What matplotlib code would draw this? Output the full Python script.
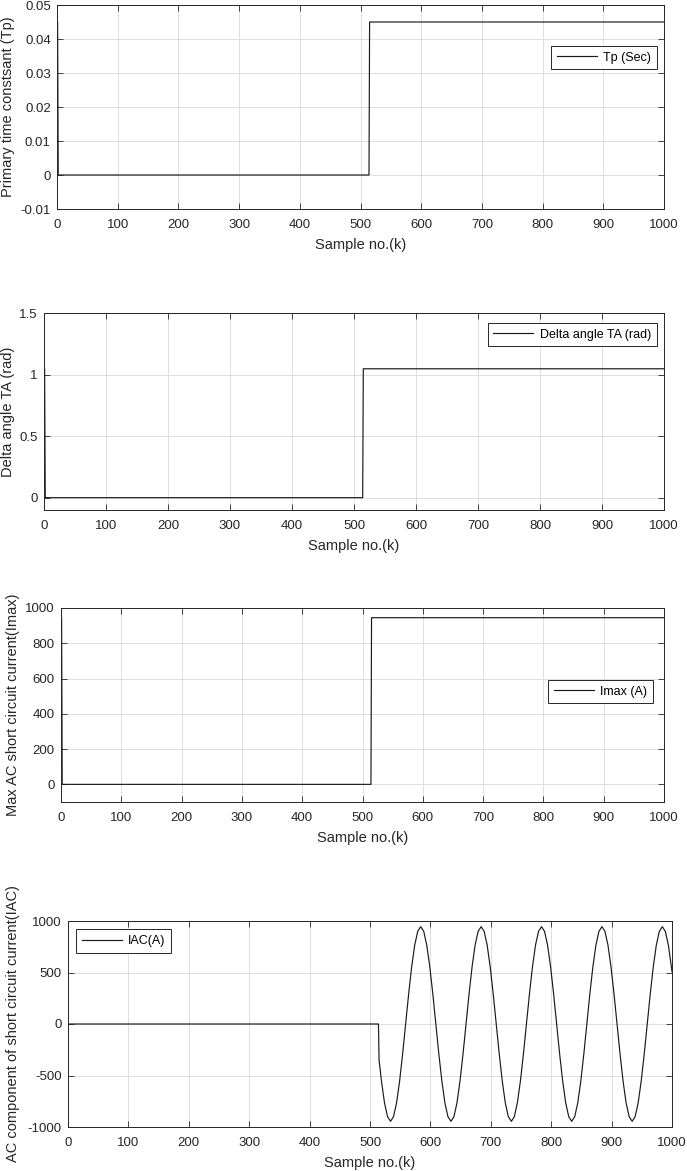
import numpy as np
import matplotlib
matplotlib.use("Agg")
import matplotlib.pyplot as plt
import matplotlib.transforms as mtransforms

plt.rcParams['font.family'] = ['Liberation Sans', 'DejaVu Sans']
plt.rcParams['axes.unicode_minus'] = False

# ---------------- data ----------------
k_step = [1, 2, 514, 515, 1000]
tp_vals = [0.045, 0.0, 0.0, 0.045, 0.045]
ta_vals = [1.047, 0.0, 0.0, 1.047, 1.047]
imax_vals = [945, 0, 0, 945, 945]

iac_k = [0, 514, 515] + list(range(519, 1000, 5)) + [1000]
iac_vals = ([0, 0, -348] +
            [-555, -765, -899, -945, -899, -765, -555, -292, 0, 292,
             555, 765, 899, 945, 899, 765, 555, 292, 0, -292] +
            [-555, -765, -899, -945, -899, -765, -555, -292, 0, 292,
             555, 765, 899, 945, 899, 765, 555, 292, 0, -292] +
            [-555, -765, -899, -945, -899, -765, -555, -292, 0, 292,
             555, 765, 899, 945, 899, 765, 555, 292, 0, -292] +
            [-555, -765, -899, -945, -899, -765, -555, -292, 0, 292,
             555, 765, 899, 945, 899, 765, 555, 292, 0, -292] +
            [-555, -765, -899, -945, -899, -765, -555, -292, 0, 292,
             555, 765, 899, 945, 899, 765, 555] +
            [507])

x_ticks = list(range(0, 1001, 100))
xlabel = "Sample no.(k)"

W, H = 687, 1171
fig = plt.figure(figsize=(W / 100, H / 100), dpi=100)

def add_ax(left, top, right, bottom):
    return fig.add_axes([left / W, 1 - bottom / H, (right - left) / W, (bottom - top) / H])

dark = (0.15, 0.15, 0.15)
fs_tick = 9.5
fs_lab = 10.5
fs_leg = 9

def style(ax, ylim, yticks, ylab, leg_loc, ylab_x, leg_anchor):
    ax.set_xlim(0, 1000)
    ax.set_ylim(*ylim)
    ax.set_xticks(x_ticks)
    ax.set_yticks(yticks)
    ax.grid(True, color=(0.87, 0.87, 0.87), linewidth=0.7)
    ax.set_axisbelow(True)
    ax.tick_params(direction='in', top=True, right=True, length=4, width=0.6,
                   colors=dark, labelsize=fs_tick, labelcolor=dark)
    ax.tick_params(axis='x', pad=7)
    ax.tick_params(axis='y', pad=4.5)
    for s in ax.spines.values():
        s.set_color(dark)
        s.set_linewidth(0.7)
    ax.set_xlabel(xlabel, fontsize=fs_lab, color=dark, labelpad=5)
    ax.set_ylabel(ylab, fontsize=fs_lab, color=dark)
    tr = mtransforms.blended_transform_factory(fig.transFigure, ax.transAxes)
    ax.yaxis.set_label_coords(ylab_x / W, 0.5, transform=tr)
    leg = ax.legend(loc=leg_loc, bbox_to_anchor=leg_anchor, fontsize=fs_leg,
                    fancybox=False, framealpha=1, edgecolor=dark,
                    handlelength=3.2, borderpad=0.45, handletextpad=0.5,
                    borderaxespad=0.5)
    leg.get_frame().set_linewidth(0.7)

lw = 0.85
# Plot 1
ax1 = add_ax(57, 5, 664, 209)
ax1.plot(k_step, tp_vals, color=(0.1, 0.1, 0.1), lw=lw, label='Tp (Sec)')
style(ax1, (-0.01, 0.05), [-0.01, 0, 0.01, 0.02, 0.03, 0.04, 0.05],
      'Primary time constsant (Tp)', 'upper right', 15, (0.998, 0.83))
ax1.set_yticklabels(['-0.01', '0', '0.01', '0.02', '0.03', '0.04', '0.05'])

# Plot 2
ax2 = add_ax(44, 313, 664, 510)
ax2.plot(k_step, ta_vals, color=(0.1, 0.1, 0.1), lw=lw, label='Delta angle TA (rad)')
style(ax2, (-0.1, 1.5), [0, 0.5, 1, 1.5], 'Delta angle TA (rad)',
      'upper right', 15, (0.998, 0.98))
ax2.set_yticklabels(['0', '0.5', '1', '1.5'])

# Plot 3
ax3 = add_ax(61, 608, 664, 802)
ax3.plot(k_step, imax_vals, color=(0.1, 0.1, 0.1), lw=lw, label='Imax (A)')
style(ax3, (-100, 1000), [0, 200, 400, 600, 800, 1000],
      'Max AC short circuit current(Imax)', 'upper right', 20, (0.992, 0.66))

# Plot 4
ax4 = add_ax(68, 921, 672, 1127)
ax4.plot(iac_k, iac_vals, color=(0.1, 0.1, 0.1), lw=lw, label='IAC(A)')
style(ax4, (-1000, 1000), [-1000, -500, 0, 500, 1000],
      'AC component of short circuit current(IAC)', 'upper left', 20,
      (0.003, 0.99))

fig.savefig('out.png', dpi=100)
